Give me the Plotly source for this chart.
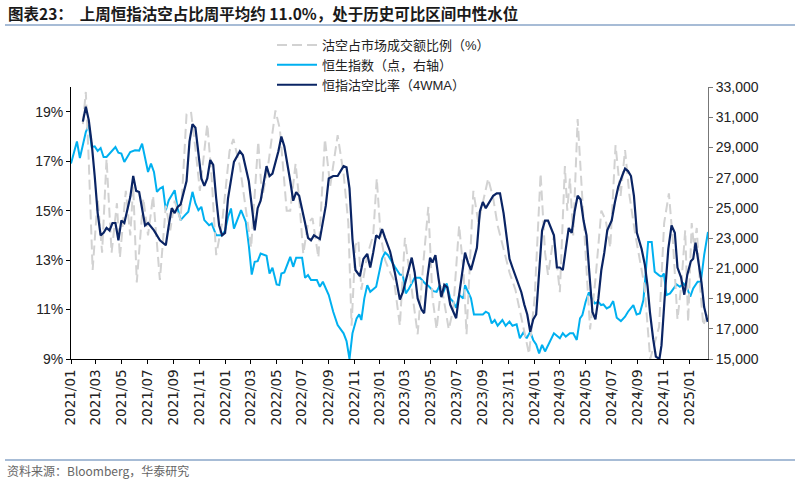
import pandas as pd
import plotly.graph_objects as go

START = "2021-01-01"
END = "2025-02-14"

# 恒生指数（点，右轴）
hsi_weeks = [0, 2, 3, 5, 6, 7, 8, 9, 10, 11, 12, 13.5, 15, 16, 17, 18, 20, 21.6, 23, 24, 25, 26, 27, 28, 29, 30, 31, 32, 33, 35, 36, 37, 38.5, 39.6, 41, 42, 43, 44, 45, 46.6, 47.5, 49, 51, 52, 53, 54, 55, 57.4, 59, 60, 61, 62, 63, 64, 66, 67, 68, 69.4, 70.3, 71, 72, 74, 75, 76, 78, 79, 80, 81, 83, 84, 85, 87, 88.5, 90, 92, 93, 94, 95, 96.4, 97.3, 98, 99, 100, 101, 103, 105, 106, 107, 109.3, 111, 112, 113, 114, 116, 117.8, 119.5, 120.6, 122.3, 123.4, 124.5, 125.3, 126.8, 128, 129, 130, 131, 132.4, 133, 134, 135, 136, 137.5, 139, 140, 141, 142, 143, 144, 145.6, 146.7, 148, 149, 150.4, 151.5, 152.7, 153.8, 155, 156, 157, 158, 159, 160, 161, 163, 165, 166, 167, 168.4, 169.5, 170.7, 171.8, 172.6, 173.7, 174.8, 175.7, 176.8, 178, 178.9, 179.7, 180.8, 181.9, 183, 184.2, 185.6, 187, 188, 189.8, 190.9, 192, 193.2, 194, 194.8, 196, 197, 198.4, 199.3, 200.1, 201, 202.2, 203.3, 204.4, 205.5, 206.7, 207.8, 209, 210, 211.5, 212.6, 213.7, 215]
hsi_values = [27930, 29400, 28300, 30020, 30500, 29030, 29070, 28770, 28960, 28370, 28370, 28700, 29030, 28650, 28590, 28040, 28700, 28810, 28790, 29250, 28260, 27380, 27930, 27380, 26060, 26280, 26390, 24850, 25510, 26170, 24960, 24190, 24520, 24740, 26060, 25290, 24850, 25070, 24190, 23850, 23960, 23190, 23190, 23500, 24400, 24960, 23630, 24850, 24070, 22530, 20590, 21430, 21470, 21980, 21830, 20660, 21040, 19930, 19890, 20660, 20730, 21760, 21100, 21700, 21700, 20370, 20550, 20220, 20220, 19780, 20110, 19230, 18130, 17250, 16700, 16190, 15000, 16700, 17690, 17950, 17580, 19010, 19890, 19450, 19780, 21650, 22050, 21870, 21100, 20590, 20550, 19340, 19630, 20370, 20370, 20000, 19850, 19490, 19450, 19890, 19230, 20000, 19010, 18790, 18390, 19230, 19010, 19890, 19450, 19010, 17950, 17950, 17950, 18130, 18020, 17360, 17580, 17200, 17580, 17200, 17470, 17200, 17290, 16370, 16760, 16370, 16810, 16260, 15970, 15370, 15930, 15500, 15930, 16700, 16370, 16700, 16480, 16700, 16700, 16260, 17690, 17910, 18790, 19410, 19010, 18680, 18790, 18570, 18610, 18350, 18460, 18830, 17730, 17510, 17800, 18130, 18570, 17950, 18020, 18900, 20770, 22750, 22750, 20770, 20550, 20440, 20660, 19230, 19340, 19670, 19930, 19780, 20000, 19780, 19120, 19670, 20110, 20110, 21870, 23410]

# 恒指沽空比率（4WMA）
wma_weeks = [4, 5, 6, 7, 8, 9, 10, 11, 12, 13, 14, 15, 16, 17, 18, 20, 21, 22, 23, 25, 26, 27.5, 28, 30, 31, 32, 33, 34, 35, 36, 37, 39, 40, 41, 42, 43, 44, 45, 46, 47, 48, 49, 50, 51, 52, 53, 55, 57, 58, 60, 62, 63, 64, 66, 67, 68, 70, 71, 72, 74, 75, 76, 77, 79, 80, 81, 82, 84, 86, 87, 88.5, 90, 92, 93, 94, 95, 96, 97.5, 98.7, 100, 101, 102, 103, 104, 105, 106, 107.7, 109.3, 111, 112, 113.6, 115, 116, 117, 118.3, 119.2, 120.3, 121.2, 122, 123, 124, 125, 126, 127, 128, 129, 130, 131, 132, 133, 134, 135, 136, 137, 138, 139, 140, 141.4, 142.5, 143.7, 144.8, 146, 147, 148, 149, 150.7, 152, 153, 154, 155, 156, 157, 158, 159, 160, 161, 163, 164, 165, 166, 167, 168, 169, 170, 171, 172, 173, 174, 175, 176, 177, 178, 179, 180, 181, 182.5, 183.6, 184.7, 186, 187, 188, 189, 190, 191, 192.6, 193.7, 194.6, 195.4, 196.5, 197.4, 198.6, 199.3, 200.5, 201.6, 202.7, 203.8, 204.7, 205.9, 207, 208, 209.2, 210, 210.8, 211.7, 212.8, 213.7, 214.9]
wma_values = [18.6, 19.2, 18.66, 17.7, 16.4, 14.9, 14.0, 14.1, 14.3, 14.2, 14.5, 14.5, 13.8, 14.6, 14.5, 15.55, 16.4, 15.8, 15.75, 14.4, 14.5, 14.3, 14.2, 13.8, 13.7, 13.6, 14.4, 15.1, 14.9, 15.15, 15.25, 16.2, 17.8, 18.5, 18.35, 17.25, 16.3, 16.0, 16.3, 17.05, 16.85, 15.5, 14.4, 14.0, 14.1, 15.5, 16.97, 17.4, 17.25, 16.2, 14.2, 15.1, 15.4, 16.8, 16.4, 16.5, 17.4, 18.0, 17.6, 16.2, 15.4, 15.75, 15.6, 14.5, 13.9, 13.8, 14.0, 13.85, 15.2, 16.3, 16.4, 16.4, 16.8, 16.75, 15.9, 13.85, 12.6, 12.35, 13.05, 13.25, 12.7, 13.3, 14.0, 13.9, 14.25, 13.9, 13.35, 12.5, 11.4, 11.7, 12.5, 13.1, 12.5, 11.45, 11.0, 10.85, 12.3, 13.1, 12.9, 13.2, 12.3, 11.5, 12.0, 11.9, 11.2, 10.9, 10.65, 11.6, 12.5, 13.3, 12.9, 12.6, 13.05, 13.5, 14.97, 15.35, 15.1, 15.4, 15.6, 15.7, 15.7, 14.9, 13.9, 13.05, 12.7, 12.1, 11.7, 11.2, 10.8, 10.1, 10.6, 10.8, 12.5, 14.2, 14.6, 14.6, 14.0, 12.7, 12.7, 12.6, 13.45, 14.3, 14.1, 14.97, 15.6, 15.45, 14.6, 14.0, 12.4, 10.9, 10.6, 11.45, 12.6, 13.3, 14.2, 14.6, 15.35, 15.96, 16.4, 16.7, 16.6, 16.4, 15.6, 14.1, 13.45, 12.8, 11.95, 10.9, 9.8, 9.1, 9.0, 9.55, 11.7, 13.45, 14.4, 14.1, 12.7, 12.3, 11.6, 12.4, 12.95, 13.05, 13.7, 12.95, 12.1, 11.1, 10.5]

# 沽空占市场成交额比例（%）
ratio_weeks = [4, 5, 6, 7.3, 9, 10.5, 12, 13.7, 15.5, 16.5, 18.5, 20, 21, 22.2, 24.4, 26, 27.7, 30, 32, 33.5, 35, 37, 39, 40.5, 42, 43.5, 46, 47.5, 49, 51, 53.5, 54.8, 57, 59, 60.8, 63.2, 64.5, 66.5, 69, 70.5, 72.8, 74, 75.8, 77, 78.4, 80, 81.5, 83.5, 85.7, 87.5, 90, 92, 93.6, 94.7, 96, 97, 98, 100, 102, 103.2, 104.5, 106, 107.7, 109, 111, 112.7, 115, 117, 119, 120.6, 122, 123.4, 125, 127.5, 129, 131, 132.5, 133.5, 135.8, 137.5, 140.8, 142.5, 144, 146, 148, 150, 152, 154.6, 156.5, 158.5, 160, 161, 163, 165, 166.7, 167.5, 168.4, 169.5, 171, 172.5, 174, 175.2, 177, 179, 180.5, 182, 183.8, 185.5, 187, 188.5, 190.5, 192, 193.5, 195.5, 197, 198.5, 200.2, 201.8, 203.2, 204.7, 206, 207.3, 208.3, 209.5, 210.3, 211.2, 212.3, 213.4, 215]
ratio_values = [18.5, 19.8, 17.0, 12.6, 15.5, 13.3, 17.1, 13.3, 15.3, 13.1, 15.8, 14.0, 16.0, 12.1, 15.5, 14.0, 15.6, 12.2, 15.2, 14.2, 15.4, 14.6, 18.9, 19.0, 17.5, 15.8, 18.5, 16.3, 13.2, 14.5, 17.4, 17.9, 16.8, 15.0, 13.5, 17.8, 15.5, 16.8, 19.05, 18.3, 15.0, 15.0, 16.9, 15.5, 13.25, 14.5, 14.7, 13.1, 17.9, 16.0, 18.05, 16.5, 14.5, 10.35, 13.6, 13.8, 11.8, 13.2, 14.0, 16.3, 14.0, 13.0, 12.5, 12.2, 10.35, 13.9, 11.8, 10.0, 13.0, 15.15, 11.5, 10.2, 12.0, 10.2, 11.0, 14.4, 12.5, 10.0, 15.8, 14.5, 16.3, 15.5, 14.4, 13.5, 12.5, 11.8, 10.7, 9.2, 11.5, 16.5, 13.3, 12.4, 14.0, 11.7, 16.8, 15.0, 16.3, 14.0, 18.7, 15.8, 12.5, 10.2, 12.2, 15.0, 14.6, 13.5, 17.65, 15.6, 17.45, 15.6, 14.0, 13.0, 12.0, 9.0, 9.7, 10.3, 14.5, 15.7, 13.7, 10.6, 12.0, 14.2, 10.5, 14.5, 13.5, 14.3, 12.0, 10.35, 10.9]

pct_ticks = [9, 11, 13, 15, 17, 19]
pct_labels = ["9%", "11%", "13%", "15%", "17%", "19%"]
hsi_ticks = [15000, 17000, 19000, 21000, 23000, 25000, 27000, 29000, 31000, 33000]

TITLE = "图表23：  上周恒指沽空占比周平均约 11.0%，处于历史可比区间中性水位"
SOURCE = "资料来源：Bloomberg，华泰研究"
NAMES = ["沽空占市场成交额比例（%）", "恒生指数（点，右轴）", "恒指沽空比率（4WMA）"]

base = pd.Timestamp(START)


def to_dates(weeks):
    return [base + pd.to_timedelta(w * 7, unit="D") for w in weeks]


W, H = 800, 486
L, R, T, B = 71, 92, 87, 127
pw, ph = W - L - R, H - T - B


def px(xp):
    return (xp - L) / pw


def py(yp):
    return (H - B - yp) / ph


CJK = "Liberation Sans, Noto Sans CJK SC, sans-serif"

fig = go.Figure()
fig.add_trace(go.Scatter(x=to_dates(ratio_weeks), y=ratio_values, name=NAMES[0], yaxis="y2",
                         mode="lines", line=dict(color="#d2d2d2", width=2, dash="10px,5px")))
fig.add_trace(go.Scatter(x=to_dates(hsi_weeks), y=hsi_values, name=NAMES[1], yaxis="y",
                         mode="lines", line=dict(color="#00b0f0", width=2)))
fig.add_trace(go.Scatter(x=to_dates(wma_weeks), y=wma_values, name=NAMES[2], yaxis="y2",
                         mode="lines", line=dict(color="#0a2464", width=2.2)))

fig.update_layout(
    width=W, height=H,
    margin=dict(l=L, r=R, t=T, b=B, autoexpand=False),
    paper_bgcolor="white", plot_bgcolor="white",
    font=dict(family=CJK, size=13, color="#222"),
    showlegend=True,
    legend=dict(x=px(272), y=py(30), xanchor="left", yanchor="top",
                bgcolor="rgba(0,0,0,0)", font=dict(size=13, color="#222"),
                tracegroupgap=0, itemwidth=40, traceorder="normal"),
    xaxis=dict(type="date", range=[START, END], tick0=START, dtick="M2",
               tickformat="%Y/%m", tickangle=-90, showgrid=False, zeroline=False,
               showline=True, linecolor="#000", linewidth=1, ticks="outside",
               ticklen=4, tickcolor="#000", automargin=False,
               tickfont=dict(family="DejaVu Sans", size=13.5, color="#222")),
    yaxis=dict(side="right", range=[hsi_ticks[0], hsi_ticks[-1]], tickvals=hsi_ticks,
               tickformat=",", showgrid=False, zeroline=False, showline=True,
               linecolor="#777", linewidth=1, ticks="outside", ticklen=4, tickcolor="#777",
               automargin=False,
               tickfont=dict(family="Liberation Sans", size=14, color="#222")),
    yaxis2=dict(overlaying="y", side="left", range=[9, 20], tickvals=pct_ticks,
                ticktext=pct_labels, showgrid=False, zeroline=False, showline=True,
                linecolor="#000", linewidth=1, ticks="outside", ticklen=4, tickcolor="#000",
                automargin=False,
                tickfont=dict(family="Liberation Sans", size=14, color="#222")),
    annotations=[
        dict(text="<b>" + TITLE + "</b>", xref="paper", yref="paper", x=px(6), y=py(13),
             xanchor="left", yanchor="middle", showarrow=False,
             font=dict(family="Noto Sans CJK SC", size=15.5, color="#1a1a1a")),
        dict(text=SOURCE, xref="paper", yref="paper", x=px(5), y=py(471),
             xanchor="left", yanchor="middle", showarrow=False,
             font=dict(family="Noto Sans CJK SC", size=12, color="#666")),
    ],
    shapes=[
        dict(type="line", xref="paper", yref="paper", x0=px(5), x1=px(795), y0=py(25), y1=py(25),
             line=dict(color="#8aa6c8", width=1.5)),
        dict(type="line", xref="paper", yref="paper", x0=px(5), x1=px(795), y0=py(460), y1=py(460),
             line=dict(color="#8aa6c8", width=1.5)),
    ],
)

fig.write_html("out.html", config={"displayModeBar": False},
               post_script="document.body.style.margin='0';")
